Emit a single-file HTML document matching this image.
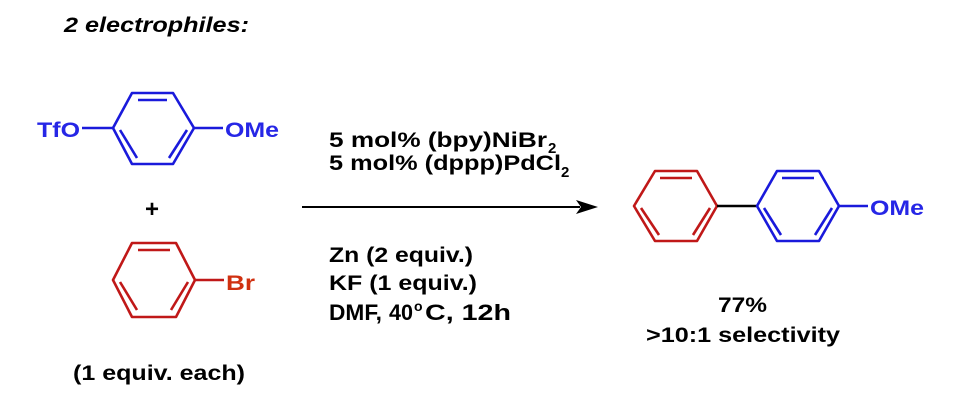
<!DOCTYPE html>
<html><head><meta charset="utf-8"><style>html,body{margin:0;padding:0;background:#fff}svg{display:block}</style></head>
<body>
<svg width="961" height="407" viewBox="0 0 961 407" xmlns="http://www.w3.org/2000/svg" font-family="Liberation Sans, Arial, sans-serif" font-weight="bold" font-size="21">
<text x="64" y="32" font-style="italic" textLength="185" lengthAdjust="spacingAndGlyphs">2 electrophiles:</text>
<g stroke="#1a1adb" stroke-width="2.6" fill="none" stroke-linejoin="round">
<polygon points="113,128 132,93 173,93 194,128 173,164 132,164"/>
<line x1="138" y1="100" x2="167" y2="100"/>
<line x1="120" y1="130" x2="137" y2="158"/>
<line x1="187" y1="130" x2="169" y2="158"/>
<line x1="82" y1="128" x2="113" y2="128"/>
<line x1="194" y1="128" x2="223" y2="128"/>
</g>
<text x="37" y="137" fill="#2626e6" textLength="43" lengthAdjust="spacingAndGlyphs">TfO</text>
<text x="225" y="137" fill="#2626e6" textLength="54" lengthAdjust="spacingAndGlyphs">OMe</text>
<text x="152" y="217" text-anchor="middle" font-size="24">+</text>
<g stroke="#c01818" stroke-width="2.6" fill="none" stroke-linejoin="round">
<polygon points="113,280 132,243 176,243 195,280 176,317 132,317"/>
<line x1="138" y1="250" x2="170" y2="250"/>
<line x1="120" y1="282" x2="137" y2="310"/>
<line x1="188" y1="282" x2="171" y2="310"/>
<line x1="195" y1="280" x2="224" y2="280"/>
</g>
<text x="226" y="290" fill="#d03010" textLength="29" lengthAdjust="spacingAndGlyphs">Br</text>
<text x="73" y="380" textLength="172" lengthAdjust="spacingAndGlyphs">(1 equiv. each)</text>
<line x1="302" y1="207" x2="580" y2="207" stroke="#000" stroke-width="2"/>
<polygon points="598,207 576,200 581,207 576,214" fill="#000"/>
<g font-size="21">
<text x="329" y="147" textLength="218" lengthAdjust="spacingAndGlyphs">5 mol% (bpy)NiBr</text><text x="548" y="153" font-size="15">2</text>
<text x="329" y="170" textLength="232" lengthAdjust="spacingAndGlyphs">5 mol% (dppp)PdCl</text><text x="561" y="177" font-size="15">2</text>
<text x="329" y="262" textLength="144" lengthAdjust="spacingAndGlyphs">Zn (2 equiv.)</text>
<text x="329" y="290" textLength="148" lengthAdjust="spacingAndGlyphs">KF (1 equiv.)</text>
<text x="329" y="320" font-size="22" textLength="53" lengthAdjust="spacingAndGlyphs">DMF,</text>
<text x="389" y="320" font-size="22" textLength="24" lengthAdjust="spacingAndGlyphs">40</text>
<text x="414" y="311" font-size="14">o</text>
<text x="425" y="320" font-size="22" textLength="86" lengthAdjust="spacingAndGlyphs">C, 12h</text>
</g>
<g stroke="#c01818" stroke-width="2.6" fill="none" stroke-linejoin="round">
<polygon points="634,206 655,171 697,171 717,206 697,241 655,241"/>
<line x1="660" y1="178" x2="692" y2="178"/>
<line x1="641" y1="208" x2="659" y2="235"/>
<line x1="710" y1="208" x2="693" y2="235"/>
</g>
<line x1="717" y1="206" x2="757" y2="206" stroke="#000" stroke-width="2.4"/>
<g stroke="#1a1adb" stroke-width="2.6" fill="none" stroke-linejoin="round">
<polygon points="757,206 777,171 819,171 839,206 819,241 777,241"/>
<line x1="782" y1="178" x2="814" y2="178"/>
<line x1="764" y1="208" x2="781" y2="235"/>
<line x1="832" y1="208" x2="815" y2="235"/>
<line x1="839" y1="206" x2="868" y2="206"/>
</g>
<text x="870" y="215" fill="#2626e6" textLength="54" lengthAdjust="spacingAndGlyphs">OMe</text>
<text x="718" y="312" textLength="49" lengthAdjust="spacingAndGlyphs">77%</text>
<text x="646" y="342" textLength="194" lengthAdjust="spacingAndGlyphs">&gt;10:1 selectivity</text>
</svg>
</body></html>
